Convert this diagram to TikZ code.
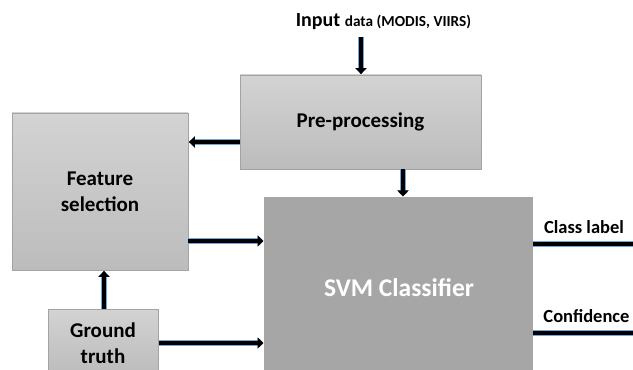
\documentclass[tikz,border=0pt]{standalone}
\usepackage{fontspec}
\setmainfont{Carlito}
\usetikzlibrary{arrows.meta}
\definecolor{boxedge}{HTML}{A3A3A3}
\definecolor{boxtop}{HTML}{D3D3D3}
\definecolor{boxbot}{HTML}{BCBCBC}
\definecolor{svmfill}{HTML}{A6A6A6}
\definecolor{rim}{HTML}{6FA8DC}
\tikzset{
  graybox/.style={draw=boxedge, line width=0.8pt, top color=boxtop, bottom color=boxbot,
    align=center, font=\bfseries\fontsize{21}{26}\selectfont, inner sep=0pt},
  svmbox/.style={fill=svmfill, draw=none, align=center, inner sep=0pt,
    text=white, font=\bfseries\fontsize{25}{30}\selectfont},
  flow/.style={line width=4.4pt, draw=black, -{Triangle[length=6pt,width=11pt]},
    shorten >=0.5pt, preaction={draw=rim, line width=5.4pt, -{Triangle[length=6pt,width=11pt]}}},
  outline/.style={line width=4.4pt, draw=black, preaction={draw=rim, line width=5.4pt}},
  lbl/.style={font=\bfseries\fontsize{18.5}{20}\selectfont, inner sep=0pt}
}
\begin{document}
\begin{tikzpicture}[x=1pt, y=1pt]
  \useasboundingbox (0,0) rectangle (633,370);
  % boxes (y measured from the bottom edge)
  \node[graybox, minimum width=241pt, minimum height=94pt] (pre) at (360.5,248) {Pre-processing};
  \node[graybox, minimum width=176pt, minimum height=157pt] (feat) at (100,178.5) {Feature\\selection};
  \node[svmbox, minimum width=269pt, minimum height=175pt, anchor=north west] (svm) at (264,173) {};
  \node[text=white, font=\bfseries\fontsize{25.5}{30}\selectfont, inner sep=0pt] (svmtxt) at (399,82) {SVM Classifier};
  \node[graybox, minimum width=110pt, minimum height=64pt, anchor=north west] (gt) at (48,61) {};
  \node[font=\bfseries\fontsize{21}{26}\selectfont, align=center, inner sep=0pt] (gttxt) at (103,27) {Ground\\truth};
  % input label
  \node[inner sep=0pt, font=\bfseries] (in) at (383.5,348)
    {\fontsize{20}{22}\selectfont Input \fontsize{15.3}{22}\selectfont data (MODIS, VIIRS)};
  \coordinate (inend) at (361,333);
  % output ends
  \coordinate (clsA) at (533,126);
  \coordinate (clsB) at (634,126);
  \coordinate (cnfA) at (533,37);
  \coordinate (cnfB) at (634,37);
  \node[lbl] (cls) at (584,143) {Class label};
  \node[lbl] (cnf) at (586.5,54) {Confidence};
  % connectors
  \draw[flow] (inend) -- (pre.north -| inend);
  \draw[flow] (pre.west |- 0,228) -- (feat.east |- 0,228);
  \draw[flow] (pre.south -| 403,0) -- (svm.north -| 403,0);
  \draw[flow] (feat.east |- 0,129) -- (svm.west |- 0,129);
  \draw[flow] (gt.east |- 0,27) -- (svm.west |- 0,27);
  \draw[flow] (gt.north -| 104,0) -- (feat.south -| 104,0);
  \draw[outline] (clsA) -- (clsB);
  \draw[outline] (cnfA) -- (cnfB);
\end{tikzpicture}
\end{document}
